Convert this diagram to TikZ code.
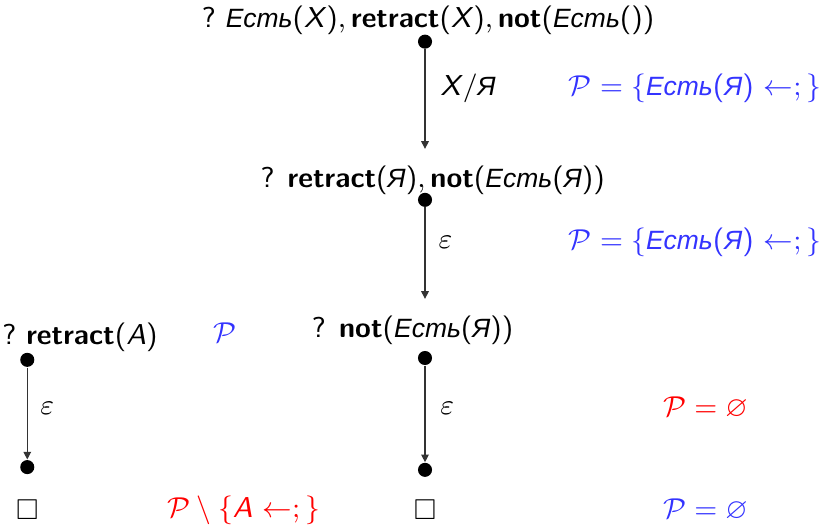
\documentclass[tikz,border=0pt]{standalone}
\usepackage{amsmath, amssymb}
\usepackage{fontspec}
\usepackage{tikz}
\usetikzlibrary{arrows.meta}
\newfontfamily\cyrfont[Scale=0.92]{Liberation Sans}
\newcommand{\ru}[1]{{\cyrfont\itshape #1}}
\definecolor{SetBlue}{RGB}{51, 51, 255}
\definecolor{SetRed}{RGB}{255, 0, 0}

\begin{document}
\begin{tikzpicture}[font=\sffamily\fontsize{9pt}{11pt}\selectfont,
    goal/.style={inner sep=5pt},
    dot/.style={circle, fill=black, inner sep=0pt, minimum size=4.4pt},
    derive/.style={black!80, line width=0.35pt, -{Triangle[length=2.4pt, width=2.4pt]}},
  ]
    \useasboundingbox (0,0) rectangle (9.075,5.808);

    % Main branch
    \node[goal] (g1) at (4.71,5.59) {?\ \ru{Есть}(\textit{X})$,\,$\textbf{retract}(\textit{X})$,\,$\textbf{not}(\ru{Есть}())};
    \node[dot] (d1) at (4.675,5.35) {};
    \node[goal] (g2) at (4.76,3.83) {? \textbf{retract}(\ru{Я})$,\,$\textbf{not}(\ru{Есть}(\ru{Я}))};
    \node[dot] (d2) at (4.675,3.61) {};
    \node[goal] (g3) at (4.54,2.18) {? \textbf{not}(\ru{Есть}(\ru{Я}))};
    \node[dot] (d3) at (4.675,1.87) {};
    \node[dot] (d4) at (4.675,0.64) {};
    \node (e2) at (4.675,0.20) {$\square$};

    % Side branch
    \node[anchor=west, inner sep=0pt] (gl) at (0.02,2.10) {?\ \textbf{retract}(\textit{A})};
    \node[dot] (dl) at (0.30,1.85) {};
    \node[dot] (dl2) at (0.30,0.67) {};
    \node (el) at (0.30,0.20) {$\square$};

    % Arrows
    \draw[derive] (d1) -- (d1 |- g2.north);
    \draw[derive] (d2) -- (d2 |- g3.north);
    \draw[derive] (d3) -- (d4);
    \draw[derive] (dl) -- (dl2);

    % Substitutions
    \node (s1) at (5.15,4.84) {\textit{X}/\ru{Я}};
    \node (s2) at (4.90,3.14) {$\varepsilon$};
    \node (s3) at (4.92,1.32) {$\varepsilon$};
    \node (s4) at (0.52,1.32) {$\varepsilon$};

    % Program states
    \node[SetBlue, anchor=east, inner sep=0pt] (p1) at (9.04,4.84) {$\mathcal{P} = \{$\ru{Есть}(\ru{Я}) $\leftarrow;\}$};
    \node[SetBlue, anchor=east, inner sep=0pt] (p2) at (9.04,3.14) {$\mathcal{P} = \{$\ru{Есть}(\ru{Я}) $\leftarrow;\}$};
    \node[SetBlue] (p3) at (2.48,2.15) {$\mathcal{P}$};
    \node[SetRed] (p4) at (7.76,1.32) {$\mathcal{P} = \varnothing$};
    \node[SetRed] (p5) at (2.68,0.20) {$\mathcal{P} \setminus \{$\textit{A} $\leftarrow;\}$};
    \node[SetBlue] (p6) at (7.76,0.20) {$\mathcal{P} = \varnothing$};
\end{tikzpicture}
\end{document}
